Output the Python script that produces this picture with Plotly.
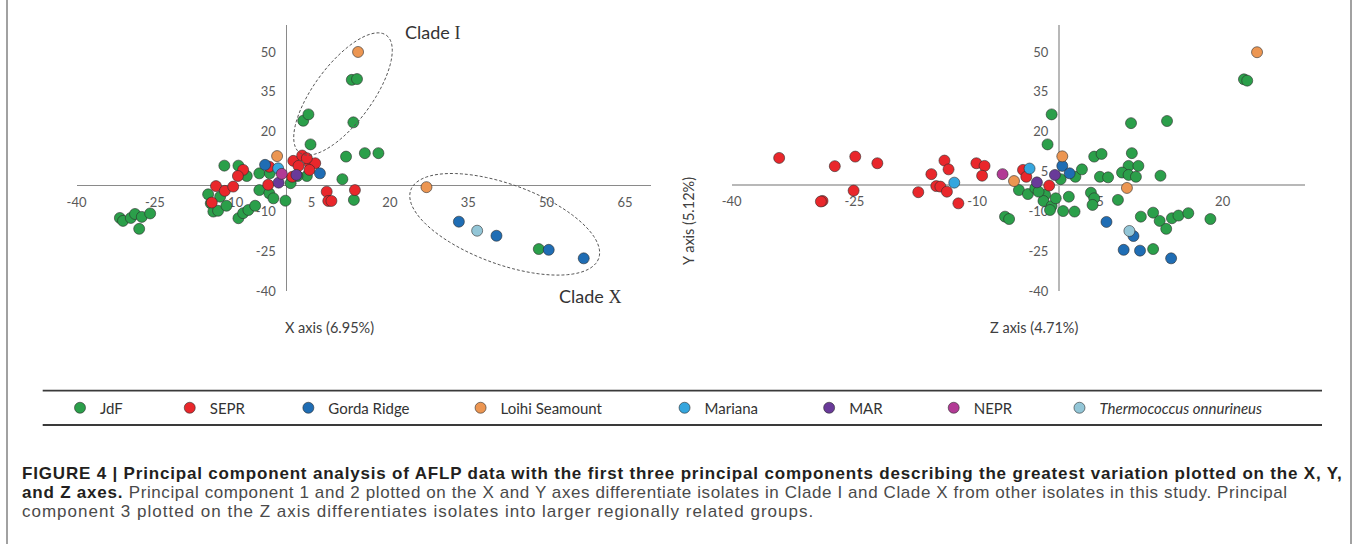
import numpy as np
import plotly.graph_objects as go

W, H = 1358, 544

series = ["JdF", "SEPR", "Gorda Ridge", "Loihi Seamount", "Mariana", "MAR", "NEPR",
          "<i>Thermococcus onnurineus</i>"]
colors = ["#2b9f4a", "#e9272b", "#1f6db4", "#ec9652", "#35a6de", "#693a99", "#b23a95", "#93c6d7"]

x_ticks = [-40, -25, -10, 5, 20, 35, 50, 65]
z_ticks = [-40, -25, -10, 5, 20]
y_ticks = [-40, -25, -10, 5, 20, 35, 50]

# ---- Left panel: X axis (PC1) vs Y axis (PC2) ----
jdf_x = [-31.7, -31.1, -29.6, -28.8, -27.5, -25.9, -28.0, -11.7, -9.0, -7.4, -5.0, -3.0,
         -5.0, -3.1, -2.3, 0.0, 1.0, 4.1, 2.3, 4.8, 3.4, 4.4, 13.0, 12.7, 13.7, 11.6, 15.2,
         17.8, 10.9, 13.1, -14.8, -14.3, -12.5, -13.8, -12.9, -11.3, -9.0, -8.1, -7.1, -5.8, 48.5]
jdf_y = [-12.5, -13.6, -12.5, -11.0, -12.1, -10.8, -16.6, 7.2, 7.2, 3.3, 4.3, 4.3,
         -2.0, -3.2, -5.1, -6.0, 0.6, 3.3, 3.3, 15.2, 24.1, 26.5, 23.5, 39.5, 39.8, 10.6, 11.9,
         11.9, 2.1, -5.7, -3.6, -7.0, -4.5, -10.1, -9.8, -7.9, -12.6, -10.7, -9.5, -7.9, -24.2]
sepr_x = [-8.1, -9.1, -3.1, -3.3, 1.3, 1.5, 2.5, 3.2, 4.6, 5.7, 4.6, 4.1, 7.9, 8.2, 8.8, 13.3,
          -13.3, -11.6, -10.0, -14.1]
sepr_y = [5.6, 3.3, 6.8, 0.0, 3.0, 9.0, 7.1, 11.0, 8.1, 8.1, 5.6, 10.0, -2.6, -6.1, -6.1, -2.0,
          -0.5, -2.3, -0.7, -6.7]
gorda_x = [-3.9, 6.6, 33.2, 40.4, 50.4, 57.1]
gorda_y = [7.5, 4.3, -13.9, -19.2, -24.5, -27.7]
loihi_x = [-1.6, 13.9, 27.0]
loihi_y = [10.8, 50.0, -0.9]
mariana_x = [-1.4]
mariana_y = [6.2]
mar_x = [2.1, -1.3]
mar_y = [3.7, 0.8]
nepr_x = [-0.7]
nepr_y = [4.1]
thermo_x = [36.7]
thermo_y = [-17.3]

# ---- Right panel: Z axis (PC3) vs Y axis (PC2) ----
jdf_z = [-4.9, -3.8, -6.6, -6.1, -0.9, -1.4, -1.7, -1.9, -0.9, -1.1, -0.4, 0.2, 2.0, 2.8, 0.5,
         1.9, 1.2, 4.3, 5.2, 5.0, 6.0, 3.9, 4.3, 4.1, 7.2, 8.8, 13.2, 8.9, 8.5, 9.7, 7.7, 8.5,
         9.4, 12.4, 11.5, 10.0, 11.5, 12.3, 13.1, 13.8, 14.6, 15.8, 18.5, 22.6, 23.0, -2.9, -2.5]
jdf_zy = [-2.0, -3.5, -12.0, -12.9, 26.5, 15.2, -3.8, -6.1, -8.0, -9.5, -5.1, 2.1, 3.0, 5.8, -9.9,
          -10.1, -4.5, 10.6, 11.6, 3.0, 2.8, -3.0, -5.1, -7.6, -5.7, 23.2, 24.0, 11.9, 7.1, 7.1, 4.6,
          3.7, 3.0, 3.4, -24.2, -12.0, -10.5, -13.6, -16.6, -12.6, -11.6, -10.7, -12.9, 39.7, 39.2,
          -1.3, -2.6]
sepr_z = [-34.2, -27.4, -24.9, -22.2, -25.1, -28.9, -29.1, -17.2, -15.6, -14.0, -13.5, -15.0,
          -14.5, -13.7, -12.3, -10.1, -9.1, -9.4, -4.4, -4.0, -1.2]
sepr_zy = [10.1, 7.0, 10.6, 8.1, -2.2, -6.1, -6.3, -2.8, 4.0, 9.1, 5.8, -0.5, -0.7, -2.6, -7.0,
           8.1, 7.1, 3.4, 5.6, 3.0, -0.3]
gorda_z = [0.4, 1.3, 5.8, 9.1, 7.9, 9.9, 13.7]
gorda_zy = [7.1, 4.3, -14.0, -19.3, -24.5, -24.8, -27.7]
loihi_z = [-5.5, 0.4, 8.3, 24.2]
loihi_zy = [1.4, 10.7, -1.2, 49.9]
mariana_z = [-3.6, -12.8]
mariana_zy = [6.1, 0.8]
mar_z = [-2.7, -0.5]
mar_zy = [0.9, 3.7]
nepr_z = [-6.9]
nepr_zy = [4.0]
thermo_z = [8.6]
thermo_zy = [-17.4]

left_data = [(jdf_x, jdf_y), (sepr_x, sepr_y), (gorda_x, gorda_y), (loihi_x, loihi_y),
             (mariana_x, mariana_y), (mar_x, mar_y), (nepr_x, nepr_y), (thermo_x, thermo_y)]
right_data = [(jdf_z, jdf_zy), (sepr_z, sepr_zy), (gorda_z, gorda_zy), (loihi_z, loihi_zy),
              (mariana_z, mariana_zy), (mar_z, mar_zy), (nepr_z, nepr_zy), (thermo_z, thermo_zy)]

pad_counts = [11, 10, 12, 15, 12, 12, 11, 0]

fig = go.Figure()
mk_line = dict(width=0.8, color="rgba(45,45,45,0.75)")
for i, name in enumerate(series):
    xs, ys = left_data[i]
    fig.add_trace(go.Scatter(x=xs, y=ys, mode="markers", name=name + "\u00a0" * pad_counts[i],
                             legendgroup=str(i),
                             marker=dict(size=11, color=colors[i], line=mk_line),
                             xaxis="x", yaxis="y"))
for i, name in enumerate(series):
    zs, ys = right_data[i]
    fig.add_trace(go.Scatter(x=zs, y=ys, mode="markers", name=name, legendgroup=str(i),
                             showlegend=False,
                             marker=dict(size=11, color=colors[i], line=mk_line),
                             xaxis="x2", yaxis="y2"))

# pixel helpers (figure pixel -> paper fraction)
def fx(px):
    return px / W

def fy(py):
    return 1 - py / H

tick_font = dict(family="Lato, Carlito, sans-serif", size=13, color="#595959")
ydom = [fy(291.0), fy(25.4)]
common = dict(showgrid=False, zeroline=False, ticks="", showline=True, layer="below traces",
              tickfont=tick_font, anchor="free")

fig.update_layout(
    xaxis=dict(domain=[fx(76.5), fx(651.1)], range=[-40, 70], tickvals=x_ticks,
               ticktext=[str(v) for v in x_ticks],
               position=fy(184.8), linecolor="#8a8a8a", linewidth=1.3, ticklabelstandoff=5, **common),
    yaxis=dict(domain=ydom, range=[-40, 60], tickvals=y_ticks, ticktext=[str(v) for v in y_ticks],
               position=fx(285.5), linecolor="#8a8a8a", linewidth=1.3, ticklabelstandoff=7, **common),
    xaxis2=dict(domain=[fx(731.7), fx(1304.5)], range=[-40, 30], tickvals=z_ticks,
                ticktext=[str(v) for v in z_ticks],
                position=fy(184.8), linecolor="#b8b8b8", linewidth=2, ticklabelstandoff=5, **common),
    yaxis2=dict(domain=ydom, range=[-40, 60], tickvals=y_ticks, ticktext=[str(v) for v in y_ticks],
                position=fx(1059), linecolor="#b8b8b8", linewidth=2, ticklabelstandoff=7, **common),
)

# ellipses (dashed clade outlines), defined in figure pixels
def ellipse_path(cx, cy, a, b, ang_deg, n=90):
    t = np.linspace(0, 2 * np.pi, n)
    ang = np.deg2rad(ang_deg)
    px = cx + a * np.cos(t) * np.cos(ang) - b * np.sin(t) * np.sin(ang)
    py = cy + a * np.cos(t) * np.sin(ang) + b * np.sin(t) * np.cos(ang)
    pts = [f"{fx(u):.5f},{fy(v):.5f}" for u, v in zip(px, py)]
    return "M " + " L ".join(pts) + " Z"

shapes = [
    dict(type="path", xref="paper", yref="paper", path=ellipse_path(343, 94, 73, 29, -53.5),
         line=dict(color="#555555", width=1, dash="3px,2px")),
    dict(type="path", xref="paper", yref="paper", path=ellipse_path(504.7, 224.3, 100, 40, 20),
         line=dict(color="#555555", width=1, dash="3px,2px")),
    dict(type="line", xref="paper", yref="paper", x0=fx(42.7), x1=fx(1322), y0=fy(390.7), y1=fy(390.7),
         line=dict(color="#3a3a3a", width=1.8)),
    dict(type="line", xref="paper", yref="paper", x0=fx(42.7), x1=fx(1322), y0=fy(425), y1=fy(425),
         line=dict(color="#3a3a3a", width=1.8)),
    dict(type="line", xref="paper", yref="paper", x0=fx(7), x1=fx(7), y0=-0.02, y1=1.02,
         line=dict(color="#8a8a8a", width=1.6)),
    dict(type="line", xref="paper", yref="paper", x0=fx(1351), x1=fx(1351), y0=-0.02, y1=1.02,
         line=dict(color="#8a8a8a", width=1.6)),
]

lab_font = dict(family="Lato, Carlito, sans-serif", size=14.5, color="#404040")
clade_font = dict(family="Lato, Carlito, sans-serif", size=18, color="#333333")
serif = "font-family:'Liberation Serif', 'DejaVu Serif', serif"
cap_font = dict(family="Liberation Sans, Arial, sans-serif", size=17, color="#231f20")
caption_lines = [
    "<span style=\"letter-spacing:0.82px\"><b>FIGURE 4 | Principal component analysis of AFLP data with "
    "the first three principal components describing the greatest variation plotted on the X, Y,</b></span>",
    "<span style=\"letter-spacing:0.8px\"><b>and Z axes.</b></span>"
    "<span style=\"letter-spacing:0.6px;color:#4a4a4a\"> Principal component 1 and 2 "
    "plotted on the X and Y axes differentiate isolates in Clade I and Clade X from other isolates in "
    "this study. Principal</span>",
    "<span style=\"letter-spacing:1.0px;color:#4a4a4a\">component 3 plotted on the Z axis differentiates "
    "isolates into larger regionally related groups.</span>",
]
caption_y = [473, 492, 511]

annotations = [
    dict(text="X axis (6.95%)", x=fx(283), y=fy(327), xref="paper", yref="paper",
         showarrow=False, font=lab_font),
    dict(text="Z axis (4.71%)", x=fx(1080), y=fy(327), xref="paper", yref="paper",
         showarrow=False, font=lab_font),
    dict(text="Y axis (5.12%)", x=fx(688), y=fy(175), xref="paper", yref="paper",
         showarrow=False, textangle=-90, font=lab_font),
    dict(text=f"Clade <span style=\"{serif}\">I</span>", x=fx(403), y=fy(32), xref="paper",
         yref="paper", showarrow=False, xanchor="left", yanchor="middle", font=clade_font),
    dict(text=f"Clade <span style=\"{serif}\">X</span>", x=fx(557), y=fy(296), xref="paper",
         yref="paper", showarrow=False, xanchor="left", yanchor="middle", font=clade_font),
]
for txt, cy in zip(caption_lines, caption_y):
    annotations.append(dict(text=txt, x=fx(20), y=fy(cy), xref="paper", yref="paper",
                            showarrow=False, xanchor="left", yanchor="middle", align="left",
                            font=cap_font))

fig.update_layout(
    width=W, height=H, margin=dict(l=0, r=0, t=0, b=0, autoexpand=False),
    paper_bgcolor="white", plot_bgcolor="white",
    shapes=shapes, annotations=annotations,
    legend=dict(orientation="h", x=fx(60), y=fy(408), xanchor="left", yanchor="middle",
                font=dict(family="Lato, Carlito, sans-serif", size=15, color="#333333"),
                bgcolor="rgba(0,0,0,0)", traceorder="normal"),
    showlegend=True,
)

fig.write_html("out.html", config={"displayModeBar": False},
               post_script="document.body.style.margin='0';document.body.style.overflow='hidden';")
